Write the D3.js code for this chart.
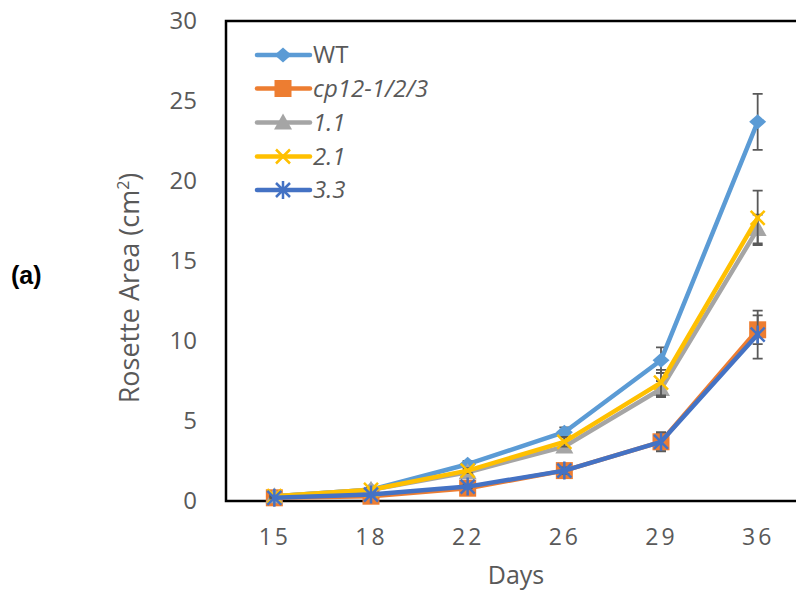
<!DOCTYPE html>
<html><head><meta charset="utf-8">
<script src="https://cdn.jsdelivr.net/npm/d3@7"></script>
<style>html,body{margin:0;padding:0;background:#fff;overflow:hidden}</style>
</head><body>
<svg id="c" width="796" height="592"></svg>
<script>
const days = ["15","18","22","26","29","36"];
const seriesNames = ["WT","cp12-1/2/3","1.1","2.1","3.3"];
const wtValues   = [0.3, 0.7, 2.3, 4.3, 8.8, 23.7];
const cp12Values = [0.2, 0.3, 0.8, 1.9, 3.7, 10.7];
const l11Values  = [0.3, 0.7, 1.8, 3.4, 7.0, 17.0];
const l21Values  = [0.3, 0.7, 1.9, 3.7, 7.4, 17.7];
const l33Values  = [0.2, 0.4, 0.9, 1.9, 3.7, 10.4];
const wtErr   = [0.05, 0.1, 0.2, 0.3, 0.8, 1.75];
const cp12Err = [0.05, 0.05, 0.1, 0.2, 0.5, 0.9];
const l11Err  = [0.05, 0.1, 0.15, 0.25, 0.5, 0.9];
const l21Err  = [0.05, 0.1, 0.15, 0.3, 0.8, 1.7];
const l33Err  = [0.05, 0.05, 0.1, 0.2, 0.6, 1.5];
const yTicks = [0,5,10,15,20,25,30];

const colors = ["#5B9BD5","#ED7D31","#A5A5A5","#FFC000","#4472C4"];
const markers = ["diamond","square","triangle","x","asterisk"];
const italic = [false,true,true,true,true];
const vals = [wtValues,cp12Values,l11Values,l21Values,l33Values];
const errs = [wtErr,cp12Err,l11Err,l21Err,l33Err];
const series = seriesNames.map((n,i)=>({name:n,color:colors[i],marker:markers[i],italic:italic[i],
  pts:days.map((d,j)=>({d, v:vals[i][j], e:errs[i][j]}))}));

const svg = d3.select("#c");
const font = "'Open Sans', 'Noto Sans', sans-serif";
const txt = "#595959";
const L=226, T=21, B=501, R=806;
const x = d3.scalePoint().domain(days).range([L,R]).padding(0.5);
const y = d3.scaleLinear().domain([0,30]).range([B,T]);

// y axis
const ya = svg.append("g").attr("transform",`translate(${L},0)`)
  .call(d3.axisLeft(y).tickValues(yTicks).tickSize(0).tickPadding(29));
ya.select(".domain").remove();
ya.selectAll("text").attr("font-family",font).attr("font-size",24).attr("fill",txt);

// x axis
const xa = svg.append("g").attr("transform",`translate(0,${B})`)
  .call(d3.axisBottom(x).tickSize(0).tickPadding(28));
xa.select(".domain").remove();
xa.selectAll("text").attr("font-family",font).attr("font-size",23).attr("fill",txt).attr("letter-spacing","3px");

// frame
svg.append("rect").attr("x",L).attr("y",T).attr("width",R-L+20).attr("height",B-T)
  .attr("fill","none").attr("stroke","#000").attr("stroke-width",2.5);

// labels
svg.append("text").attr("transform","translate(139,288) rotate(-90)").attr("text-anchor","middle")
  .attr("font-family",font).attr("font-size",27).attr("fill",txt)
  .html('Rosette Area (cm<tspan dy="-10" font-size="16">2</tspan><tspan dy="10">)</tspan>');
svg.append("text").attr("x",516).attr("y",584).attr("text-anchor","middle")
  .attr("font-family",font).attr("font-size",25).attr("fill",txt).text("Days");
svg.append("text").attr("x",11).attr("y",284).attr("font-family","'Liberation Sans', Arial, sans-serif")
  .attr("font-weight","bold").attr("font-size",25).attr("fill","#000").text("(a)");

function drawMarker(g, type, color, cx, cy){
  if(type==="diamond"){
    g.append("path").attr("d",`M${cx-8.5},${cy}L${cx},${cy-7.5}L${cx+8.5},${cy}L${cx},${cy+7.5}Z`).attr("fill",color);
  } else if(type==="square"){
    g.append("rect").attr("x",cx-8.5).attr("y",cy-8.5).attr("width",17).attr("height",17).attr("fill",color);
  } else if(type==="triangle"){
    g.append("path").attr("d",`M${cx-9},${cy+7}L${cx},${cy-9}L${cx+9},${cy+7}Z`).attr("fill",color);
  } else if(type==="x"){
    g.append("path").attr("d",`M${cx-7},${cy-7}L${cx+7},${cy+7}M${cx-7},${cy+7}L${cx+7},${cy-7}`)
      .attr("stroke",color).attr("stroke-width",2.5);
  } else {
    g.append("path").attr("d",`M${cx-7},${cy-7}L${cx+7},${cy+7}M${cx-7},${cy+7}L${cx+7},${cy-7}M${cx},${cy-9}L${cx},${cy+9}`)
      .attr("stroke",color).attr("stroke-width",2.5);
  }
}

const line = d3.line().x(p=>x(p.d)).y(p=>y(p.v));
series.forEach(s=>{
  const g = svg.append("g");
  s.pts.forEach(p=>{
    const cx=x(p.d), y1=y(p.v+p.e), y2=y(p.v-p.e);
    g.append("path").attr("d",`M${cx},${y1}L${cx},${y2}M${cx-5},${y1}L${cx+5},${y1}M${cx-5},${y2}L${cx+5},${y2}`)
      .attr("stroke","#595959").attr("stroke-width",1.8).attr("fill","none");
  });
  g.append("path").datum(s.pts).attr("d",line).attr("fill","none").attr("stroke",s.color)
    .attr("stroke-width",4.5).attr("stroke-linejoin","round").attr("stroke-linecap","round");
  s.pts.forEach(p=>drawMarker(g,s.marker,s.color,x(p.d),y(p.v)));
});

// legend
const lg = svg.append("g");
const rowY = [55,88.5,122.5,156.5,190];
series.forEach((s,i)=>{
  const yy=rowY[i];
  lg.append("line").attr("x1",257).attr("x2",310).attr("y1",yy).attr("y2",yy)
    .attr("stroke",s.color).attr("stroke-width",4.5).attr("stroke-linecap","round");
  drawMarker(lg,s.marker,s.color,283,yy);
  lg.append("text").attr("x",313).attr("y",yy+8).attr("font-family",font).attr("font-size",24)
    .attr("fill",txt).attr("font-style",s.italic?"italic":"normal").text(s.name);
});
</script>
</body></html>
